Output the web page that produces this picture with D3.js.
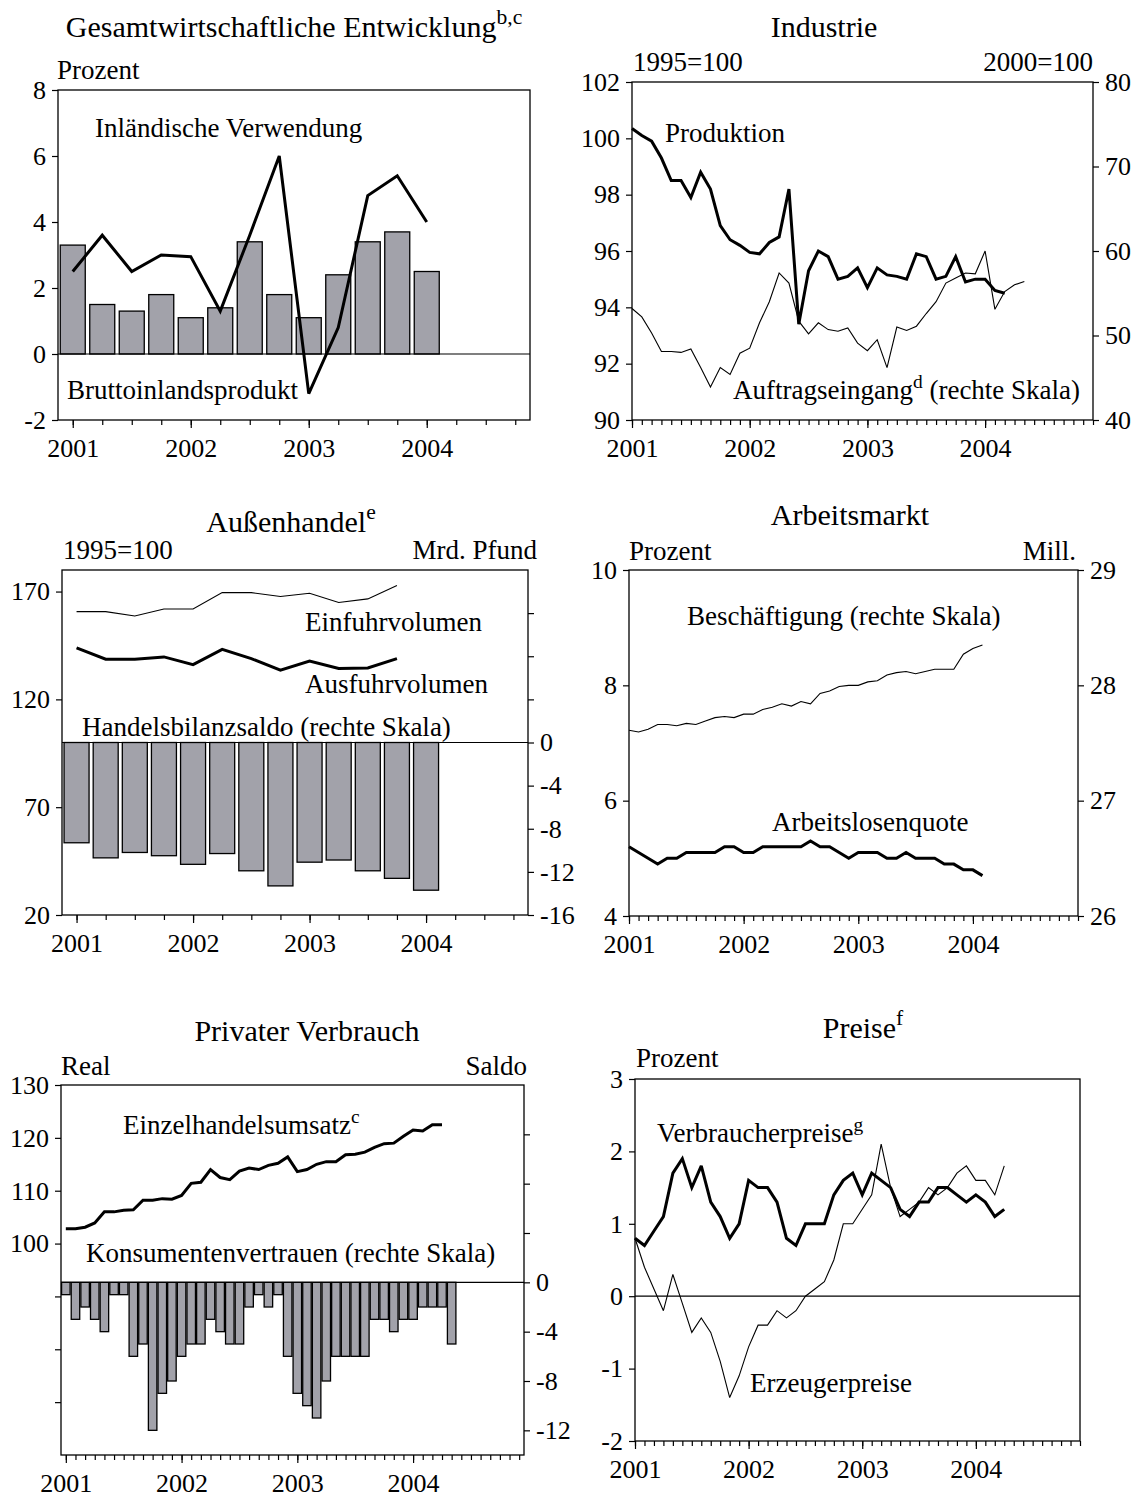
<!DOCTYPE html>
<html><head><meta charset="utf-8">
<script src="https://cdn.jsdelivr.net/npm/d3@7"></script>
<style>
body{margin:0;background:#fff}
svg{display:block}
</style>
</head><body>
<svg id="c" width="1138" height="1497"></svg>
<script>
// ---------------- DATA ----------------
const yearTicks = [2001, 2002, 2003, 2004];
const yearLabels = ["2001", "2002", "2003", "2004"];

// Panel 1: Gesamtwirtschaftliche Entwicklung (quarterly, from 2001 Q1)
const gdpGrowth = [3.3, 1.5, 1.3, 1.8, 1.1, 1.4, 3.4, 1.8, 1.1, 2.4, 3.4, 3.7, 2.5];
const domesticDemand = [2.5, 3.6, 2.5, 3.0, 2.95, 1.3, 3.6, 6.0, -1.2, 0.8, 4.8, 5.4, 4.0];

// Panel 2: Industrie (monthly, from Jan 2001)
const production = [100.35, 100.1, 99.9, 99.3, 98.5, 98.5, 97.9, 98.8, 98.2, 96.9, 96.4, 96.2,
  95.95, 95.9, 96.3, 96.5, 98.2, 93.4, 95.3, 96.0, 95.8, 95.0, 95.1, 95.4,
  94.7, 95.4, 95.15, 95.1, 95.0, 95.9, 95.8, 95.0, 95.1, 95.8, 94.9, 95.0,
  95.0, 94.6, 94.5];
const orders = [53.2, 52.2, 50.3, 48.1, 48.1, 48.0, 48.4, 46.2, 43.9, 46.2, 45.4, 47.9,
  48.5, 51.5, 54.0, 57.4, 56.2, 51.7, 50.2, 51.5, 50.7, 50.5, 50.9, 49.1,
  48.2, 49.5, 46.2, 51.0, 50.6, 51.1, 52.6, 54.0, 56.2, 56.8, 57.4, 57.3,
  60.0, 53.1, 55.2, 56.0, 56.4];

// Panel 3: Außenhandel (quarterly)
const tradeBalance = [-9.3, -10.7, -10.2, -10.5, -11.3, -10.3, -11.9, -13.3, -11.1, -10.9, -11.9, -12.6, -13.7];
const importVolume = [160.7, 160.7, 158.7, 161.9, 161.9, 169.5, 169.5, 167.7, 169.2, 164.9, 166.6, 172.8];
const exportVolume = [143.9, 138.6, 138.6, 139.7, 136.1, 143.2, 138.9, 133.5, 137.8, 134.3, 134.6, 138.9];

// Panel 4: Arbeitsmarkt (monthly)
const employment = [27.61, 27.595, 27.62, 27.66, 27.66, 27.65, 27.67, 27.66, 27.69, 27.72, 27.73, 27.72,
  27.75, 27.75, 27.79, 27.81, 27.84, 27.82, 27.86, 27.84, 27.93, 27.95, 27.99, 28.0,
  28.0, 28.03, 28.04, 28.09, 28.11, 28.12, 28.10, 28.12, 28.14, 28.14, 28.14, 28.27,
  28.32, 28.35];
const unemploymentRate = [5.2, 5.1, 5.0, 4.9, 5.0, 5.0, 5.1, 5.1, 5.1, 5.1, 5.2, 5.2,
  5.1, 5.1, 5.2, 5.2, 5.2, 5.2, 5.2, 5.3, 5.2, 5.2, 5.1, 5.0,
  5.1, 5.1, 5.1, 5.0, 5.0, 5.1, 5.0, 5.0, 5.0, 4.9, 4.9, 4.8,
  4.8, 4.7];

// Panel 5: Privater Verbrauch (monthly)
const retailSales = [102.8, 102.8, 103.1, 103.9, 106.0, 106.0, 106.3, 106.4, 108.2, 108.2, 108.5, 108.4,
  109.1, 111.4, 111.6, 114.0, 112.5, 112.1, 113.7, 114.3, 114.0, 114.8, 115.2, 116.4,
  113.6, 114.0, 115.0, 115.5, 115.5, 116.8, 116.9, 117.3, 118.2, 118.9, 119.0, 120.3,
  121.5, 121.3, 122.5, 122.5];
const consumerConfidence = [-1, -3, -2, -3, -4, -1, -1, -6, -5, -12, -9, -8,
  -6, -5, -5, -3, -4, -5, -5, -2, -1, -2, -1, -6,
  -9, -10, -11, -8, -6, -6, -6, -6, -3, -3, -4, -3,
  -3, -2, -2, -2, -5];

// Panel 6: Preise (monthly)
const consumerPrices = [0.8, 0.7, 0.9, 1.1, 1.7, 1.9, 1.5, 1.8, 1.3, 1.1, 0.8, 1.0,
  1.6, 1.5, 1.5, 1.3, 0.8, 0.7, 1.0, 1.0, 1.0, 1.4, 1.6, 1.7,
  1.4, 1.7, 1.6, 1.5, 1.2, 1.1, 1.3, 1.3, 1.5, 1.5, 1.4, 1.3,
  1.4, 1.3, 1.1, 1.2];
const producerPrices = [0.8, 0.4, 0.1, -0.2, 0.3, -0.1, -0.5, -0.3, -0.5, -0.9, -1.4, -1.1,
  -0.7, -0.4, -0.4, -0.2, -0.3, -0.2, 0.0, 0.1, 0.2, 0.5, 1.0, 1.0,
  1.2, 1.4, 2.1, 1.5, 1.1, 1.2, 1.3, 1.5, 1.4, 1.5, 1.7, 1.8,
  1.6, 1.6, 1.4, 1.8];

// ---------------- DRAWING ----------------
const FONT = '"Liberation Serif","Times New Roman",Times,serif';
const svg = d3.select("#c");
const BAR_FILL = "#a2a2aa";
const qTime = i => 2001 + i / 4;
const mTime = i => 2001 + i / 12;

function panel(o) {
  const p = Object.assign({}, o);
  p.g = svg.append("g");
  p.x = d3.scaleLinear().domain(o.xDomain).range([o.left, o.right]);
  p.yL = d3.scaleLinear().domain(o.yLeft).range([o.bottom, o.top]);
  p.yR = o.yRight ? d3.scaleLinear().domain(o.yRight).range([o.bottom, o.top]) : null;
  return p;
}

function styleAxis(sel, size) {
  sel.select(".domain").remove();
  sel.selectAll("line").attr("stroke", "#000").attr("stroke-width", 1.2);
  sel.selectAll("text").attr("font-family", FONT).attr("font-size", size || 26).attr("fill", "#000");
  sel.attr("font-family", null).attr("font-size", null);
}

const fmt = d => String(d);

function axes(p, cfg) {
  const g = p.g.append("g");
  g.append("g").attr("transform", `translate(0,${p.bottom})`)
    .call(d3.axisBottom(p.x).tickValues(cfg.minor).tickSize(5).tickFormat(""))
    .call(s => styleAxis(s));
  g.append("g").attr("transform", `translate(0,${p.bottom})`)
    .call(d3.axisBottom(p.x).tickValues(yearTicks).tickSize(8).tickPadding(10.5)
      .tickFormat((d, i) => yearLabels[i]))
    .call(s => styleAxis(s));
  g.append("g").attr("transform", `translate(${p.left},0)`)
    .call(d3.axisLeft(p.yL).tickValues(cfg.left).tickSize(6).tickPadding(6).tickFormat(fmt))
    .call(s => styleAxis(s));
  if (cfg.leftMinor) {
    g.append("g").attr("transform", `translate(${p.left},0)`)
      .call(d3.axisLeft(p.yL).tickValues(cfg.leftMinor).tickSize(6).tickFormat(""))
      .call(s => styleAxis(s));
  }
  if (p.yR && cfg.right) {
    g.append("g").attr("transform", `translate(${p.right},0)`)
      .call(d3.axisRight(p.yR).tickValues(cfg.right).tickSize(6).tickPadding(6).tickFormat(fmt))
      .call(s => styleAxis(s));
  }
  if (p.yR && cfg.rightMinor) {
    g.append("g").attr("transform", `translate(${p.right},0)`)
      .call(d3.axisRight(p.yR).tickValues(cfg.rightMinor).tickSize(6).tickFormat(""))
      .call(s => styleAxis(s));
  }
}

function frame(p) {
  p.g.append("rect").attr("x", p.left).attr("y", p.top)
    .attr("width", p.right - p.left).attr("height", p.bottom - p.top)
    .attr("fill", "none").attr("stroke", "#000").attr("stroke-width", 1.3);
}

function hline(p, y) {
  p.g.append("line").attr("x1", p.left).attr("x2", p.right).attr("y1", y).attr("y2", y)
    .attr("stroke", "#000").attr("stroke-width", 1.2);
}

function bars(p, data, tf, yScale, width) {
  p.g.append("g").selectAll("rect").data(data).join("rect")
    .attr("x", (d, i) => p.x(tf(i)) - width / 2)
    .attr("width", width)
    .attr("y", d => Math.min(yScale(d), yScale(0)))
    .attr("height", d => Math.abs(yScale(d) - yScale(0)))
    .attr("fill", BAR_FILL).attr("stroke", "#000").attr("stroke-width", 1.3);
}

function line(p, data, tf, yScale, w) {
  p.g.append("path").datum(data)
    .attr("d", d3.line().x((d, i) => p.x(tf(i))).y(d => yScale(d)))
    .attr("fill", "none").attr("stroke", "#000").attr("stroke-width", w)
    .attr("stroke-linejoin", "miter").attr("stroke-miterlimit", 3);
}

function text(x, y, parts, opt) {
  opt = opt || {};
  const size = opt.size || 27;
  const t = svg.append("text").attr("x", x).attr("y", y)
    .attr("font-family", FONT).attr("font-size", size)
    .attr("text-anchor", opt.anchor || "start").attr("fill", "#000");
  let prevSup = false;
  parts.forEach(pt => {
    const isSup = typeof pt !== "string";
    const s = isSup ? pt.sup : pt;
    const ts = t.append("tspan").text(s);
    if (isSup) {
      ts.attr("font-size", size * 0.72).attr("dy", -size * 0.42);
    } else if (prevSup) {
      ts.attr("dy", size * 0.42);
    }
    prevSup = isSup;
  });
  return t;
}

const quarterMinor = d3.range(16).map(qTime);
const monthMinor = d3.range(48).map(mTime);

// ---- Panel 1 ----
{
  const p = panel({ left: 58, right: 530, top: 90, bottom: 420,
    xDomain: [2000.875, 2004.875], yLeft: [-2, 8] });
  bars(p, gdpGrowth, qTime, p.yL, 25);
  hline(p, p.yL(0));
  line(p, domesticDemand, qTime, p.yL, 3);
  frame(p);
  axes(p, { minor: quarterMinor, left: [-2, 0, 2, 4, 6, 8] });
  text(294, 37, ["Gesamtwirtschaftliche Entwicklung", { sup: "b,c" }], { anchor: "middle", size: 30 });
  text(57, 79, ["Prozent"]);
  text(95, 137, ["Inländische Verwendung"]);
  text(67, 399, ["Bruttoinlandsprodukt"]);
}

// ---- Panel 2 ----
{
  const p = panel({ left: 632, right: 1093, top: 82, bottom: 420,
    xDomain: [2001, 2001 + 47 / 12], yLeft: [90, 102], yRight: [40, 80] });
  line(p, orders, mTime, p.yR, 1.1);
  line(p, production, mTime, p.yL, 3);
  frame(p);
  axes(p, { minor: monthMinor, left: [90, 92, 94, 96, 98, 100, 102], right: [40, 50, 60, 70, 80] });
  text(824, 37, ["Industrie"], { anchor: "middle", size: 30 });
  text(633, 71, ["1995=100"]);
  text(1093, 71, ["2000=100"], { anchor: "end" });
  text(665, 142, ["Produktion"]);
  text(733, 399, ["Auftragseingang", { sup: "d" }, " (rechte Skala)"]);
}

// ---- Panel 3 ----
{
  const p = panel({ left: 62, right: 528, top: 570, bottom: 915,
    xDomain: [2000.875, 2004.875], yLeft: [20, 180], yRight: [-16, 16] });
  bars(p, tradeBalance, qTime, p.yR, 25);
  hline(p, p.yR(0));
  line(p, importVolume, qTime, p.yL, 1.1);
  line(p, exportVolume, qTime, p.yL, 3);
  frame(p);
  axes(p, { minor: quarterMinor, left: [20, 70, 120, 170], right: [-16, -12, -8, -4, 0], rightMinor: [4, 8, 12] });
  text(291, 532, ["Außenhandel", { sup: "e" }], { anchor: "middle", size: 30 });
  text(63, 559, ["1995=100"]);
  text(537, 559, ["Mrd. Pfund"], { anchor: "end" });
  text(305, 631, ["Einfuhrvolumen"]);
  text(305, 693, ["Ausfuhrvolumen"]);
  text(82, 736, ["Handelsbilanzsaldo (rechte Skala)"]);
}

// ---- Panel 4 ----
{
  const p = panel({ left: 629, right: 1078, top: 570, bottom: 916,
    xDomain: [2001, 2001 + 47 / 12], yLeft: [4, 10], yRight: [26, 29] });
  line(p, employment, mTime, p.yR, 1.1);
  line(p, unemploymentRate, mTime, p.yL, 3);
  frame(p);
  axes(p, { minor: monthMinor, left: [4, 6, 8, 10], right: [26, 27, 28, 29] });
  text(850, 525, ["Arbeitsmarkt"], { anchor: "middle", size: 30 });
  text(629, 560, ["Prozent"]);
  text(1076, 560, ["Mill."], { anchor: "end" });
  text(687, 625, ["Beschäftigung (rechte Skala)"]);
  text(772, 831, ["Arbeitslosenquote"]);
}

// ---- Panel 5 ----
{
  const p = panel({ left: 61, right: 524, top: 1085, bottom: 1455,
    xDomain: [2001 - 0.5 / 12, 2001 + 47.5 / 12], yLeft: [60, 130], yRight: [-14, 16] });
  bars(p, consumerConfidence, mTime, p.yR, 8.5);
  hline(p, p.yR(0));
  line(p, retailSales, mTime, p.yL, 3);
  frame(p);
  axes(p, { minor: monthMinor, left: [100, 110, 120, 130], leftMinor: [70, 80, 90],
    right: [-12, -8, -4, 0], rightMinor: [4, 8, 12] });
  text(307, 1041, ["Privater Verbrauch"], { anchor: "middle", size: 30 });
  text(61, 1075, ["Real"]);
  text(527, 1075, ["Saldo"], { anchor: "end" });
  text(123, 1134, ["Einzelhandelsumsatz", { sup: "c" }]);
  text(86, 1262, ["Konsumentenvertrauen (rechte Skala)"]);
}

// ---- Panel 6 ----
{
  const p = panel({ left: 635, right: 1080, top: 1079, bottom: 1441,
    xDomain: [2001, 2001 + 47 / 12], yLeft: [-2, 3] });
  hline(p, p.yL(0));
  line(p, producerPrices, mTime, p.yL, 1.1);
  line(p, consumerPrices, mTime, p.yL, 3);
  frame(p);
  axes(p, { minor: monthMinor, left: [-2, -1, 0, 1, 2, 3] });
  text(863, 1038, ["Preise", { sup: "f" }], { anchor: "middle", size: 30 });
  text(636, 1067, ["Prozent"]);
  text(657, 1142, ["Verbraucherpreise", { sup: "g" }]);
  text(750, 1392, ["Erzeugerpreise"]);
}
</script>
</body></html>
